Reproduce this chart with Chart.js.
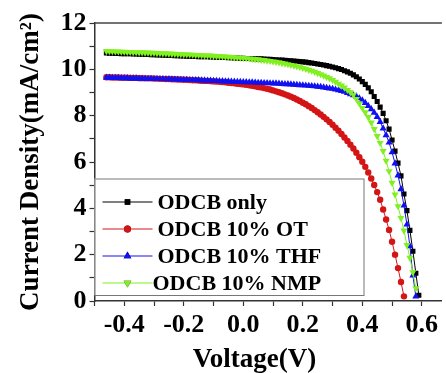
<!DOCTYPE html>
<html>
<head>
<meta charset="utf-8">
<title>J-V curves</title>
<script src="https://cdn.jsdelivr.net/npm/chart.js"></script>
<style>
  html, body { margin: 0; padding: 0; background: #fff; }
  #wrap { width: 446px; height: 373px; }
</style>
</head>
<body>
<div id="wrap"><canvas id="jvChart" width="446" height="373"></canvas></div>
<script>
// voltage (V), one reading every 0.01 V
const voltage = [
  -0.46, -0.45, -0.44, -0.43, -0.42, -0.41, -0.40, -0.39, -0.38, -0.37,
  -0.36, -0.35, -0.34, -0.33, -0.32, -0.31, -0.30, -0.29, -0.28, -0.27,
  -0.26, -0.25, -0.24, -0.23, -0.22, -0.21, -0.20, -0.19, -0.18, -0.17,
  -0.16, -0.15, -0.14, -0.13, -0.12, -0.11, -0.10, -0.09, -0.08, -0.07,
  -0.06, -0.05, -0.04, -0.03, -0.02, -0.01, 0.00, 0.01, 0.02, 0.03,
  0.04, 0.05, 0.06, 0.07, 0.08, 0.09, 0.10, 0.11, 0.12, 0.13,
  0.14, 0.15, 0.16, 0.17, 0.18, 0.19, 0.20, 0.21, 0.22, 0.23,
  0.24, 0.25, 0.26, 0.27, 0.28, 0.29, 0.30, 0.31, 0.32, 0.33,
  0.34, 0.35, 0.36, 0.37, 0.38, 0.39, 0.40, 0.41, 0.42, 0.43,
  0.44, 0.45, 0.46, 0.47, 0.48, 0.49, 0.50, 0.51, 0.52, 0.53,
  0.54, 0.55, 0.56, 0.57, 0.58, 0.59
];

// current density (mA/cm2) per solvent
const odcbOnly = [
  10.71, 10.70, 10.70, 10.69, 10.69, 10.68, 10.68, 10.67, 10.67, 10.66,
  10.66, 10.65, 10.65, 10.64, 10.64, 10.63, 10.63, 10.62, 10.62, 10.61,
  10.61, 10.60, 10.60, 10.59, 10.59, 10.58, 10.58, 10.57, 10.57, 10.56,
  10.56, 10.55, 10.55, 10.54, 10.54, 10.53, 10.53, 10.52, 10.52, 10.51,
  10.51, 10.50, 10.50, 10.49, 10.49, 10.48, 10.48, 10.47, 10.47, 10.46,
  10.46, 10.45, 10.45, 10.44, 10.43, 10.43, 10.42, 10.41, 10.40, 10.40,
  10.39, 10.38, 10.37, 10.36, 10.35, 10.34, 10.32, 10.31, 10.29, 10.27,
  10.25, 10.23, 10.21, 10.19, 10.16, 10.13, 10.10, 10.07, 10.03, 9.99,
  9.94, 9.89, 9.83, 9.76, 9.68, 9.58, 9.47, 9.35, 9.20, 9.03,
  8.83, 8.61, 8.37, 8.10, 7.78, 7.42, 6.95, 6.47, 5.95, 5.40,
  4.62, 3.90, 3.05, 2.15, 1.20, 0.25
];
const odcbOT = [
  9.66, 9.66, 9.65, 9.65, 9.65, 9.64, 9.64, 9.64, 9.63, 9.63,
  9.63, 9.62, 9.62, 9.61, 9.61, 9.61, 9.60, 9.60, 9.59, 9.59,
  9.58, 9.58, 9.57, 9.57, 9.56, 9.56, 9.55, 9.55, 9.54, 9.53,
  9.53, 9.52, 9.51, 9.50, 9.50, 9.49, 9.48, 9.47, 9.46, 9.45,
  9.44, 9.42, 9.41, 9.40, 9.38, 9.37, 9.35, 9.33, 9.31, 9.29,
  9.27, 9.24, 9.22, 9.19, 9.16, 9.13, 9.09, 9.05, 9.01, 8.97,
  8.92, 8.87, 8.82, 8.76, 8.70, 8.63, 8.56, 8.49, 8.41, 8.33,
  8.24, 8.15, 8.05, 7.95, 7.84, 7.73, 7.61, 7.48, 7.35, 7.21,
  7.06, 6.91, 6.75, 6.58, 6.40, 6.21, 6.01, 5.79, 5.55, 5.29,
  5.01, 4.70, 4.37, 3.95, 3.52, 3.07, 2.56, 2.00, 1.42, 0.82,
  0.20
];
const odcbTHF = [
  9.64, 9.64, 9.63, 9.63, 9.63, 9.62, 9.62, 9.62, 9.61, 9.61,
  9.61, 9.60, 9.60, 9.60, 9.59, 9.59, 9.59, 9.58, 9.58, 9.58,
  9.57, 9.57, 9.57, 9.56, 9.56, 9.55, 9.55, 9.55, 9.54, 9.54,
  9.53, 9.53, 9.52, 9.52, 9.51, 9.51, 9.50, 9.50, 9.49, 9.49,
  9.48, 9.48, 9.47, 9.47, 9.46, 9.46, 9.45, 9.45, 9.44, 9.44,
  9.43, 9.42, 9.42, 9.41, 9.41, 9.40, 9.39, 9.39, 9.38, 9.37,
  9.36, 9.36, 9.35, 9.34, 9.33, 9.32, 9.31, 9.30, 9.29, 9.28,
  9.27, 9.25, 9.24, 9.22, 9.20, 9.18, 9.16, 9.13, 9.10, 9.07,
  9.03, 8.98, 8.93, 8.88, 8.83, 8.75, 8.66, 8.55, 8.42, 8.28,
  8.13, 7.95, 7.73, 7.45, 7.16, 6.84, 6.42, 5.94, 5.42, 4.83,
  4.12, 3.30, 2.37, 1.10, 0.20
];
const odcbNMP = [
  10.79, 10.78, 10.78, 10.77, 10.77, 10.76, 10.76, 10.75, 10.75, 10.74,
  10.74, 10.73, 10.73, 10.72, 10.72, 10.71, 10.71, 10.70, 10.70, 10.69,
  10.69, 10.68, 10.67, 10.67, 10.66, 10.66, 10.65, 10.64, 10.64, 10.63,
  10.62, 10.62, 10.61, 10.60, 10.60, 10.59, 10.58, 10.57, 10.57, 10.56,
  10.55, 10.54, 10.53, 10.52, 10.51, 10.50, 10.49, 10.48, 10.47, 10.45,
  10.44, 10.43, 10.41, 10.40, 10.38, 10.36, 10.34, 10.32, 10.30, 10.27,
  10.25, 10.22, 10.19, 10.16, 10.13, 10.10, 10.06, 10.02, 9.98, 9.94,
  9.89, 9.84, 9.79, 9.73, 9.67, 9.61, 9.54, 9.46, 9.38, 9.30,
  9.21, 9.11, 9.01, 8.90, 8.72, 8.53, 8.33, 8.14, 7.94, 7.70,
  7.42, 7.12, 6.82, 6.47, 6.05, 5.60, 5.10, 4.60, 4.09, 3.58,
  3.04, 2.42, 1.86, 1.24, 0.55
];

const seriesNames = ['ODCB only', 'ODCB 10% OT', 'ODCB 10% THF', 'ODCB 10% NMP'];
const xTicks = [-0.4, -0.2, 0.0, 0.2, 0.4, 0.6];
const yTicks = [0, 2, 4, 6, 8, 10, 12];

function toPoints(vals) {
  return vals.map((j, i) => ({ x: voltage[i], y: j }));
}

const serif = '"Liberation Serif", "Times New Roman", serif';

function makeSet(label, vals, color, style, rot, radius, order) {
  return {
    label: label,
    data: toPoints(vals),
    borderColor: color,
    backgroundColor: color,
    borderWidth: 1,
    pointStyle: style,
    rotation: rot,
    pointRadius: radius,
    pointBorderWidth: 0,
    pointBackgroundColor: color,
    order: order
  };
}

// legend drawn inside the plot, like the original figure
const boxLegend = {
  id: 'boxLegend',
  afterDatasetsDraw(chart) {
    const ctx = chart.ctx;
    const a = chart.chartArea;
    const left = a.left, top = a.top + 155.5;
    const w = 270, h = 116.5;
    ctx.save();
    ctx.fillStyle = '#fff';
    ctx.fillRect(left, top, w, h);
    ctx.strokeStyle = '#777';
    ctx.lineWidth = 1;
    ctx.strokeRect(left + 0.5, top + 0.5, w - 1, h);
    ctx.font = 'bold 22px ' + serif;
    ctx.textBaseline = 'middle';
    ctx.fillStyle = '#000';
    chart.data.datasets.forEach((ds, i) => {
      const cy = top + 23.5 + i * 27;
      ctx.strokeStyle = ds.borderColor;
      ctx.lineWidth = 1;
      ctx.beginPath();
      ctx.moveTo(left + 8, cy);
      ctx.lineTo(left + 58, cy);
      ctx.stroke();
      Chart.helpers.drawPoint(ctx, {
        pointStyle: ds.pointStyle, radius: ds.pointRadius + 0.3,
        rotation: ds.rotation, borderWidth: 0
      }, left + 33, cy);
      ctx.fillStyle = ds.borderColor;
      ctx.fill();
      ctx.fillStyle = '#000';
      ctx.fillText(ds.label, left + (i === 3 ? 58 : 63), cy + 1);
    });
    ctx.restore();
  },
  afterDraw(chart) {
    const ctx = chart.ctx;
    const a = chart.chartArea;
    ctx.save();
    // top frame line
    ctx.strokeStyle = '#444';
    ctx.lineWidth = 1.5;
    ctx.beginPath();
    ctx.moveTo(a.left, a.top);
    ctx.lineTo(a.right, a.top);
    ctx.stroke();
    // x axis title
    ctx.font = 'bold 27px ' + serif;
    ctx.fillStyle = '#000';
    ctx.textAlign = 'center';
    ctx.textBaseline = 'alphabetic';
    ctx.fillText('Voltage(V)', a.left + 160, 367);
    ctx.restore();
  }
};

new Chart(document.getElementById('jvChart'), {
  type: 'line',
  data: {
    datasets: [
      makeSet(seriesNames[0], odcbOnly, '#000000', 'rect', 0, 3.6, 3),
      makeSet(seriesNames[1], odcbOT, '#d41515', 'circle', 0, 3.2, 2),
      makeSet(seriesNames[2], odcbTHF, '#1010f0', 'triangle', 0, 4.1, 1),
      makeSet(seriesNames[3], odcbNMP, '#80f020', 'triangle', 180, 4.1, 0)
    ]
  },
  options: {
    responsive: false,
    animation: false,
    devicePixelRatio: 1,
    layout: { padding: { top: 23, right: 0, left: 0, bottom: 0 } },
    plugins: {
      legend: { display: false },
      tooltip: { enabled: false }
    },
    scales: {
      x: {
        type: 'linear',
        min: -0.5,
        max: 0.6675,
        afterFit(s) { s.height = 72; },
        border: { display: true, color: '#333', width: 1.5 },
        grid: { drawOnChartArea: false, drawTicks: true, tickLength: 5, tickColor: '#333', tickWidth: 1.2 },
        ticks: {
          stepSize: 0.1,
          includeBounds: false,
          autoSkip: false,
          maxRotation: 0,
          padding: 4,
          color: '#000',
          font: { family: serif, size: 26, weight: 'bold' },
          callback(v) {
            const hit = xTicks.find(t => Math.abs(t - v) < 1e-6);
            return hit === undefined ? '' : hit.toFixed(1);
          }
        },
        title: { display: false }
      },
      y: {
        type: 'linear',
        min: 0,
        max: 12,
        afterFit(s) { s.width = 94.5; },
        border: { display: true, color: '#333', width: 1.5 },
        grid: { drawOnChartArea: false, drawTicks: true, tickLength: 5, tickColor: '#333', tickWidth: 1.2 },
        ticks: {
          stepSize: 1,
          autoSkip: false,
          padding: 3,
          color: '#000',
          font: { family: serif, size: 26, weight: 'bold' },
          callback(v) {
            return yTicks.includes(v) ? String(v) : '';
          }
        },
        title: {
          display: true,
          text: 'Current Density(mA/cm²)',
          color: '#000',
          font: { family: serif, size: 27, weight: 'bold', lineHeight: 1 },
          padding: { top: 18, bottom: 0 }
        }
      }
    }
  },
  plugins: [boxLegend]
});
</script>
</body>
</html>
